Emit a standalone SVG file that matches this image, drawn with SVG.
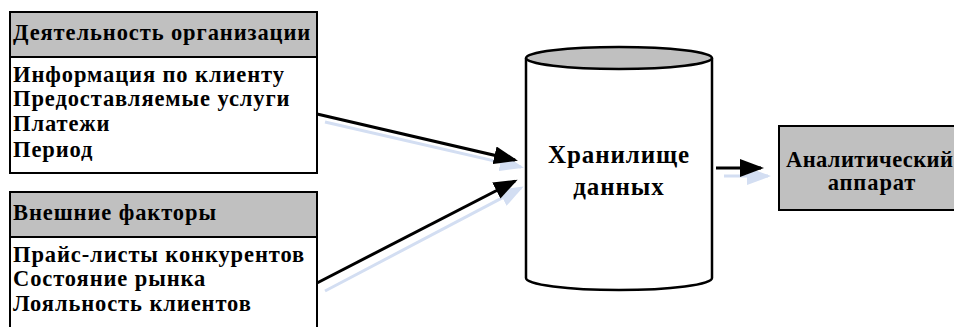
<svg xmlns="http://www.w3.org/2000/svg" width="954" height="327" viewBox="0 0 954 327">
<style>
.t{font-family:"Liberation Serif","Times New Roman",serif;font-weight:bold;font-size:22.5px;letter-spacing:0.9px;fill:#000}
.big{font-size:25px;letter-spacing:0.9px}
.tight{letter-spacing:0.4px}
.box{fill:#fff;stroke:#000;stroke-width:2}
.hdr{fill:#c0c0c0;stroke:#000;stroke-width:2}
.ln{stroke:#000;stroke-width:3;fill:none}
.sh{stroke:#d3def2;stroke-width:3;fill:none}
</style>
<defs>
<marker id="ah" markerWidth="8" markerHeight="6" refX="7" refY="3" orient="auto" markerUnits="strokeWidth"><path d="M0,0 L8,3 L0,6 Z" fill="#000"/></marker>
<marker id="ahs" markerWidth="8" markerHeight="6" refX="7" refY="3" orient="auto" markerUnits="strokeWidth"><path d="M0,0 L8,3 L0,6 Z" fill="#d3def2"/></marker>
</defs>
<g id="connectors">
<line class="sh" x1="325" y1="122" x2="521" y2="167" marker-end="url(#ahs)"/>
<line class="sh" x1="325" y1="291" x2="521" y2="188" marker-end="url(#ahs)"/>
<line class="sh" x1="724" y1="176" x2="768" y2="176" marker-end="url(#ahs)"/>
<line class="ln" x1="317" y1="114" x2="515" y2="160" marker-end="url(#ah)"/>
<line class="ln" x1="317" y1="283" x2="515" y2="181" marker-end="url(#ah)"/>
<line class="ln" x1="716" y1="168" x2="761" y2="168" marker-end="url(#ah)"/>
</g>
<g id="activity">
<rect class="box" x="10" y="12" width="307" height="161"/>
<rect class="hdr" x="10" y="12" width="307" height="45"/>
<text class="t" x="13" y="40">Деятельность организации</text>
<text class="t" x="13" y="82">Информация по клиенту</text>
<text class="t" x="13" y="106">Предоставляемые услуги</text>
<text class="t" x="13" y="131">Платежи</text>
<text class="t" x="13" y="157">Период</text>
</g>
<g id="external">
<rect class="box" x="10" y="192" width="307" height="145"/>
<rect class="hdr" x="10" y="192" width="307" height="45"/>
<text class="t" x="13" y="220">Внешние факторы</text>
<text class="t" x="13" y="262">Прайс-листы конкурентов</text>
<text class="t" x="13" y="286">Состояние рынка</text>
<text class="t" x="13" y="311">Лояльность клиентов</text>
</g>
<g id="storage">
<path d="M526,58 L526,278 A93,12 0 0 0 712,278 L712,58" fill="#fff" stroke="#000" stroke-width="2.5"/>
<ellipse cx="619" cy="58" rx="93" ry="11" fill="#c0c0c0" stroke="#000" stroke-width="2.5"/>
<text class="t big" x="619" y="163" text-anchor="middle">Хранилище</text>
<text class="t big" x="619" y="195" text-anchor="middle">данных</text>
</g>
<g id="analytic">
<rect class="hdr" x="779" y="126" width="186" height="84"/>
<text class="t tight" x="786" y="167">Аналитический</text>
<text class="t" x="872" y="190" text-anchor="middle">аппарат</text>
</g>
</svg>
